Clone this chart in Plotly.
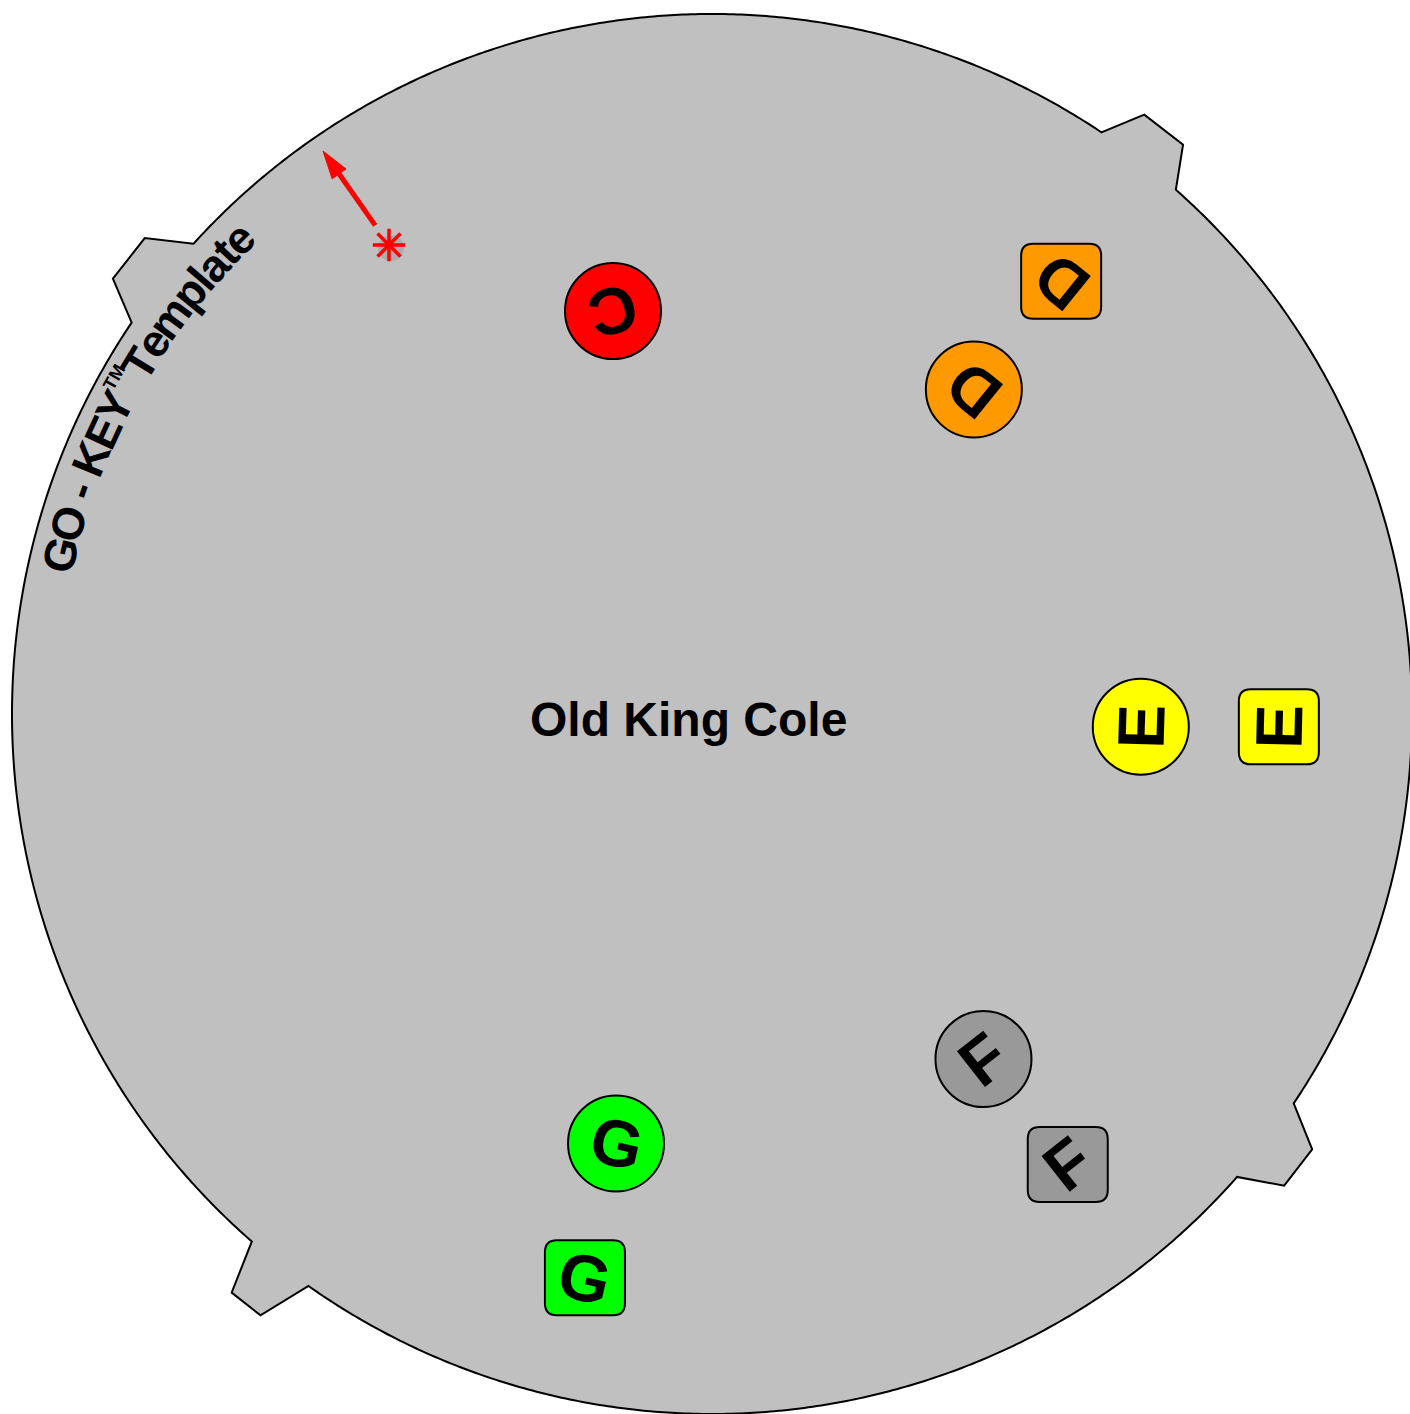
import numpy as np
import plotly.graph_objects as go

# ---------------- data ----------------
round_letters = ["C", "D", "E", "F", "G"]
round_angle_deg = [103.8, 51.1, -1.7, -51.8, -102.6]
round_dist = [415, 417, 429, 439, 440]
round_colors = ["#ff0000", "#ff9900", "#ffff00", "#999999", "#00ff00"]

square_letters = ["D", "E", "F", "G"]
square_angle_deg = [51.1, -1.3, -51.7, -102.7]
square_dist = [556, 567, 574, 578]
square_colors = ["#ff9900", "#ffff00", "#999999", "#00ff00"]

title_text = "Old King Cole"
brand_chars = ["G", "O", " ", "-", " ", "K", "E", "Y", "™",
               "T", "e", "m", "p", "l", "a", "t", "e"]
tab_angle_deg = [52.35, 141.9, 231.85, 322.4]
pointer_x = [389, 323]   # star, arrow tip
pointer_y = [245, 151]

# ---------------- layout constants ----------------
W, H = 1410, 1414
CX, CY = 712, 714
R = 700
# per-tab geometry: (base half-angle, outer corner offsets, outer radius)
TAB_GEOM = [
    (3.85, (-1.95, 1.85), 739),
    (4.1, (-1.9, 2.1), 740.5),
    (2.95, (-1.55, 1.25), 752),
    (3.8, (-1.9, 1.64), 741.5),
]
FONT = "Liberation Sans, Arial, Helvetica, sans-serif"
DISK = "#c0c0c0"


def pol(r, a):
    t = np.radians(a)
    return CX + r * np.cos(t), CY - r * np.sin(t)


# disk with tabs as one outline
order = np.argsort([a % 360 for a in tab_angle_deg])
tabs = [(tab_angle_deg[i] % 360, TAB_GEOM[i]) for i in order]
pts = []
n = len(tabs)
for i, (c, (bh, (t0, t1), tr)) in enumerate(tabs):
    nc, (nbh, _, _) = tabs[(i + 1) % n]
    if i == n - 1:
        nc += 360
    pts += [pol(R, c - bh), pol(tr, c + t0), pol(tr, c + t1), pol(R, c + bh)]
    for a in np.linspace(c + bh, nc - nbh, 240):
        pts.append(pol(R, a))
disk_path = "M " + " L ".join(f"{x:.2f},{y:.2f}" for x, y in pts) + " Z"

shapes = [dict(type="path", path=disk_path, xref="x", yref="y",
               fillcolor=DISK, line=dict(color="black", width=2), layer="below")]


def rrect(x, y, w=80, h=75, r=12):
    x0, x1, y0, y1 = x - w / 2, x + w / 2, y - h / 2, y + h / 2
    return (f"M {x0+r},{y0} L {x1-r},{y0} Q {x1},{y0} {x1},{y0+r} "
            f"L {x1},{y1-r} Q {x1},{y1} {x1-r},{y1} L {x0+r},{y1} "
            f"Q {x0},{y1} {x0},{y1-r} L {x0},{y0+r} Q {x0},{y0} {x0+r},{y0} Z")


annotations = []
LETTER_FS = 66

sq_x, sq_y = [], []
for L, a, d, col in zip(square_letters, square_angle_deg, square_dist, square_colors):
    x, y = pol(d, a)
    sq_x.append(x); sq_y.append(y)
    shapes.append(dict(type="path", path=rrect(x, y), xref="x", yref="y",
                       fillcolor=col, line=dict(color="black", width=2), layer="below"))

rx, ry = [], []
for a, d in zip(round_angle_deg, round_dist):
    x, y = pol(d, a)
    rx.append(x); ry.append(y)


def letter_ann(L, x, y, a):
    ang = -(a + 90)
    ang = (ang + 180) % 360 - 180
    return dict(x=x, y=y, xref="x", yref="y", text=f"<b>{L}</b>", showarrow=False,
                textangle=ang, font=dict(family=FONT, size=LETTER_FS, color="black"),
                xanchor="center", yanchor="middle")


for L, a, x, y in zip(round_letters, round_angle_deg, rx, ry):
    annotations.append(letter_ann(L, x, y, a))
for L, a, x, y in zip(square_letters, square_angle_deg, sq_x, sq_y):
    annotations.append(letter_ann(L, x, y, a))

# title
annotations.append(dict(x=CX - 24, y=CY + 5, xref="x", yref="y",
                        text=f"<b>{title_text}</b>", showarrow=False,
                        font=dict(family=FONT, size=48, color="black"),
                        xanchor="center", yanchor="middle"))

# curved brand text
BW = {"G": .778, "O": .778, " ": .278, "-": .333, "K": .722, "E": .667, "Y": .667,
      "T": .611, "e": .556, "m": .889, "p": .611, "l": .278, "a": .556, "t": .333}
FS_ADV = 41
FS = 45
R_MID = 671
R_BASE = R_MID - 0.35 * FS
theta = 167.7
for ch in brand_chars:
    if ch == "™":
        w, size, roff, txt = 0.55 * FS_ADV, FS * 0.4, 0.34 * FS, "TM"
    else:
        w, size, roff, txt = BW[ch] * FS_ADV, FS, 0, ch
    ac = theta - np.degrees((w / 2) / R_BASE)
    if ch != " ":
        x, y = pol(R_MID + roff, ac)
        annotations.append(dict(x=x, y=y, xref="x", yref="y", text=f"<b>{txt}</b>",
                                showarrow=False, textangle=90 - ac,
                                font=dict(family=FONT, size=size, color="black"),
                                xanchor="center", yanchor="middle"))
    theta -= np.degrees(w / R_BASE)

# pointer arrow
sx, sy, tx, ty = pointer_x[0], pointer_y[0], pointer_x[1], pointer_y[1]
vx, vy = tx - sx, ty - sy
ln = np.hypot(vx, vy)
ux, uy = vx / ln, vy / ln
px, py = -uy, ux
HEAD_L, HEAD_W, GAP = 28, 8.5, 24
bx, by = tx - HEAD_L * ux, ty - HEAD_L * uy
shapes.append(dict(type="line", xref="x", yref="y",
                   x0=sx + GAP * ux, y0=sy + GAP * uy, x1=bx + 2 * ux, y1=by + 2 * uy,
                   line=dict(color="#ff0000", width=5)))
shapes.append(dict(type="path", xref="x", yref="y",
                   path=f"M {tx},{ty} L {bx+HEAD_W*px},{by+HEAD_W*py} L {bx-HEAD_W*px},{by-HEAD_W*py} Z",
                   fillcolor="#ff0000", line=dict(color="#ff0000", width=1)))

fig = go.Figure()
fig.add_trace(go.Scatter(x=rx, y=ry, mode="markers", hoverinfo="skip",
                         marker=dict(size=96, color=round_colors, symbol="circle",
                                     line=dict(color="black", width=2))))
fig.add_trace(go.Scatter(x=[sx + 2], y=[sy + 3], mode="markers", hoverinfo="skip",
                         marker=dict(size=26, color="rgba(0,0,0,0.10)", symbol="circle",
                                     line=dict(width=0))))
fig.add_trace(go.Scatter(x=[sx], y=[sy], mode="markers", hoverinfo="skip",
                         marker=dict(size=27, color="#ff0000", symbol="asterisk-open",
                                     line=dict(color="#ff0000", width=3.5))))

fig.update_layout(width=W, height=H, margin=dict(l=0, r=0, t=0, b=0),
                  paper_bgcolor="white", plot_bgcolor="white", showlegend=False,
                  shapes=shapes, annotations=annotations,
                  xaxis=dict(range=[0, W], visible=False, fixedrange=True),
                  yaxis=dict(range=[H, 0], visible=False, fixedrange=True))

fig.write_html("out.html", config={"displayModeBar": False},
               post_script="document.body.style.margin='0';")
